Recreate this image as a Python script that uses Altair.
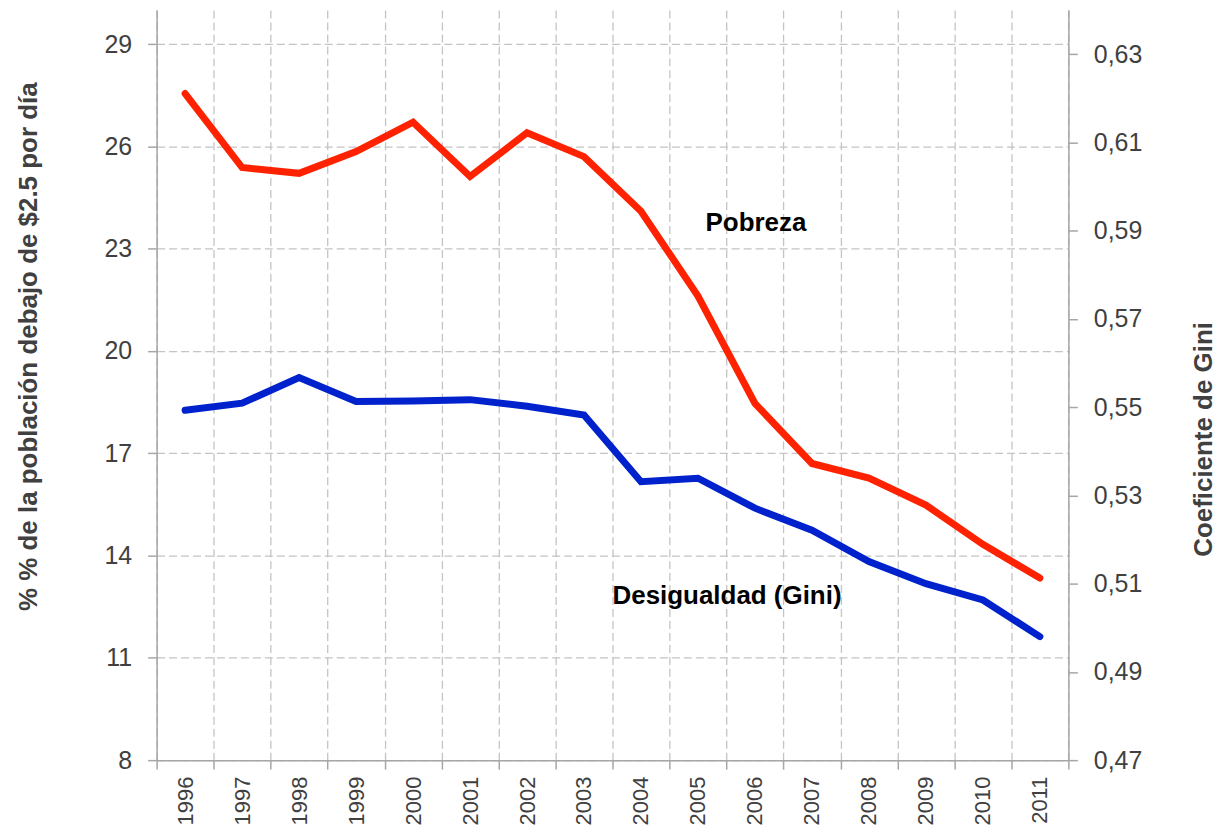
import altair as alt
import pandas as pd

years = [str(y) for y in range(1996, 2012)]
pobreza = [27.55, 25.38, 25.21, 25.85, 26.71, 25.12, 26.40, 25.70,
           24.10, 21.61, 18.46, 16.70, 16.27, 15.48, 14.33, 13.34]
gini = [0.5493, 0.5509, 0.5567, 0.5513, 0.5514, 0.5517, 0.5502, 0.5482,
        0.5331, 0.5339, 0.5271, 0.5221, 0.5150, 0.5100, 0.5063, 0.4980]

left_ticks = [8, 11, 14, 17, 20, 23, 26, 29]
right_ticks = [0.47, 0.49, 0.51, 0.53, 0.55, 0.57, 0.59, 0.61, 0.63]

ann_labels = ["Pobreza", "Desigualdad (Gini)"]
ann_years = ["2006", "2006"]
ann_values = [23.53, 12.58]

df = pd.DataFrame({"year": years, "pobreza": pobreza, "gini": gini})
ann = pd.DataFrame({"year": ann_years, "pobreza": ann_values, "label": ann_labels})

NARROW = "Liberation Sans Narrow, Arial Narrow, Liberation Sans, sans-serif"
AXC = "#A6A6A6"
TXT = "#404040"

x_enc = alt.X(
    "year:O",
    bandPosition=0.5,
    scale=alt.Scale(type="band", paddingInner=0, paddingOuter=0),
    axis=alt.Axis(
        title=None, labelAngle=270, labelFont=NARROW, labelFontSize=22,
        labelColor=TXT, labelPadding=7, tickBand="extent", grid=True,
        gridDash=[8, 4], gridColor="#C4C4C4", gridWidth=1.3,
        domainColor=AXC, domainWidth=1.5, tickColor=AXC, tickWidth=1.5,
        tickSize=9,
    ),
)

left_scale = alt.Scale(domain=[8, 30], nice=False, zero=False)
left_axis = alt.Axis(
    title="% % de la población debajo de $2.5 por día",
    values=left_ticks, labelFont=NARROW, labelFontSize=25, labelColor=TXT,
    labelPadding=16, titleFont=NARROW, titleFontSize=26, titleFontWeight="bold",
    titleColor=TXT, titleAngle=270, titleBaseline="bottom", titleAlign="center",
    titleX=-115, titleY=337, grid=True, gridDash=[8, 4], gridColor="#C4C4C4",
    gridWidth=1.3, domainColor=AXC, domainWidth=1.5, tickColor=AXC,
    tickWidth=1.5, tickSize=9,
)

red = alt.Chart(df).mark_line(color="#FF2200", strokeWidth=7, strokeCap="round").encode(
    x=x_enc,
    y=alt.Y("pobreza:Q", scale=left_scale, axis=left_axis),
)

t1 = alt.Chart(ann.iloc[[0]]).mark_text(
    font=NARROW, fontSize=26, fontWeight="bold", color="black",
    baseline="alphabetic", align="center", dx=1,
).encode(x=alt.X("year:O", bandPosition=0.5), y="pobreza:Q", text="label:N")

t2 = alt.Chart(ann.iloc[[1]]).mark_text(
    font=NARROW, fontSize=26, fontWeight="bold", color="black",
    baseline="alphabetic", align="center", dx=-28,
).encode(x=alt.X("year:O", bandPosition=0.5), y="pobreza:Q", text="label:N")

left_group = alt.layer(red, t1, t2)

blue = alt.Chart(df).mark_line(color="#0022CC", strokeWidth=7, strokeCap="round").encode(
    x=x_enc,
    y=alt.Y(
        "gini:Q",
        scale=alt.Scale(domain=[0.47, 0.64], nice=False, zero=False),
        axis=alt.Axis(
            title="Coeficiente de Gini", orient="right", values=right_ticks,
            labelExpr="replace(format(datum.value, '.2f'), '.', ',')",
            labelFont=NARROW, labelFontSize=25, labelColor=TXT, labelPadding=16,
            titleFont=NARROW, titleFontSize=26, titleFontWeight="bold",
            titleColor=TXT, titleAngle=270, titleBaseline="alphabetic",
            titleAlign="center", titleX=143, titleY=430, grid=False,
            domainColor=AXC, domainWidth=1.5, tickColor=AXC, tickWidth=1.5,
            tickSize=9,
        ),
    ),
)

chart = (
    alt.layer(left_group, blue)
    .resolve_scale(y="independent")
    .properties(width=914, height=752,
                padding={"left": 8, "top": 1, "right": 0, "bottom": 0})
    .configure_view(strokeWidth=0)
)

chart.save("out.html", embed_options={"renderer": "svg", "actions": False})
